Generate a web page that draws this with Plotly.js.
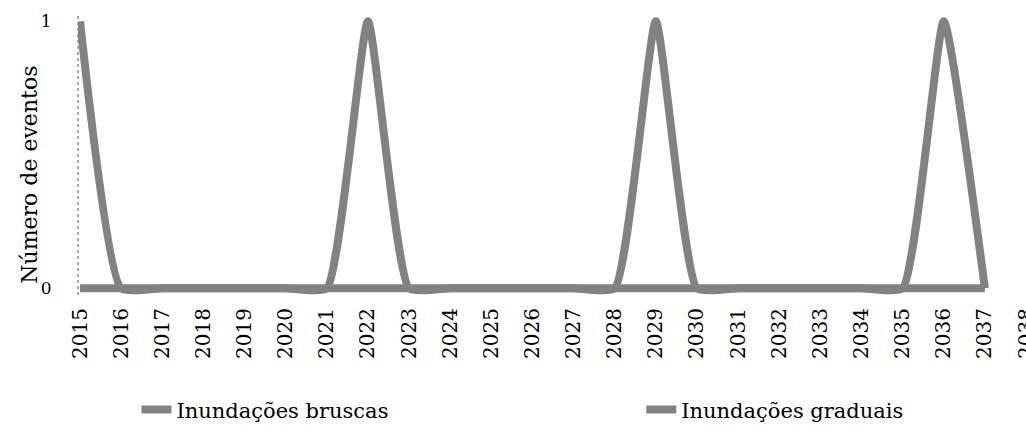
<!DOCTYPE html>
<html>
<head>
<meta charset="utf-8">
<script src="https://cdn.plot.ly/plotly-3.0.1.min.js"></script>
<style>
  html, body { margin: 0; padding: 0; background: white; overflow: hidden; }
  #chart { width: 1026px; height: 443px; }
</style>
</head>
<body>
<div id="chart"></div>
<script>
// Years on the x axis (2038 is only a label, cut at the right edge)
let years = ["2015", "2016", "2017", "2018", "2019", "2020", "2021", "2022", "2023",
  "2024", "2025", "2026", "2027", "2028", "2029", "2030", "2031", "2032", "2033",
  "2034", "2035", "2036", "2037"];
let allYears = years.concat(["2038"]);

// Number of events per year
let bruscas = [1, 0, 0, 0, 0, 0, 0, 1, 0, 0, 0, 0, 0, 0, 1, 0, 0, 0, 0, 0, 0, 1, 0];
let graduais = [0, 0, 0, 0, 0, 0, 0, 0, 0, 0, 0, 0, 0, 0, 0, 0, 0, 0, 0, 0, 0, 0, 0];

let serif = "DejaVu Serif, Liberation Serif, serif";
let grey = "#828282";

let graduaisTrace = {
  x: years,
  y: graduais,
  type: "scatter",
  mode: "lines",
  name: "Inundações graduais",
  legend: "legend2",
  line: { color: grey, width: 8, shape: "spline", smoothing: 0.45 }
};

let bruscasTrace = {
  x: years,
  y: bruscas,
  type: "scatter",
  mode: "lines",
  name: "Inundações bruscas",
  legend: "legend",
  line: { color: grey, width: 8, shape: "spline", smoothing: 0.45 }
};

let data = [bruscasTrace, graduaisTrace];

// two single-item legends placed side by side
function legendAt(x) {
  return {
    xref: "container",
    yref: "container",
    x: x,
    y: 0.075,
    xanchor: "left",
    yanchor: "middle",
    itemwidth: 30,
    font: { family: serif, size: 21, color: "black" }
  };
}

let layout = {
  width: 1026,
  height: 443,
  margin: { l: 78, r: 0, t: 16, b: 148, autoexpand: false },
  paper_bgcolor: "white",
  plot_bgcolor: "white",
  font: { family: serif, color: "black" },
  showlegend: true,
  legend: legendAt(0.133),
  legend2: legendAt(0.625),
  xaxis: {
    type: "category",
    categoryorder: "array",
    categoryarray: allYears,
    tickmode: "array",
    tickvals: allYears,
    ticktext: allYears,
    range: [-0.05, 23],
    tickangle: -90,
    automargin: false,
    tickfont: { family: serif, size: 20, color: "black" },
    showgrid: false,
    zeroline: false,
    showline: false,
    ticks: "outside",
    ticklen: 4,
    tickcolor: "rgba(0,0,0,0)"
  },
  yaxis: {
    range: [-0.025, 1.02],
    tickmode: "array",
    tickvals: [0, 1],
    ticktext: ["0", "1"],
    automargin: false,
    tickfont: { family: serif, size: 17, color: "black" },
    showgrid: false,
    zeroline: false,
    showline: false,
    ticks: "outside",
    ticklen: 22,
    tickcolor: "rgba(0,0,0,0)"
  },
  // y axis title, placed by hand left of the tick labels
  annotations: [
    {
      text: "Número de eventos",
      xref: "paper", yref: "paper",
      x: -0.052, y: 0.43,
      xanchor: "center", yanchor: "middle",
      textangle: -90,
      showarrow: false,
      font: { family: serif, size: 22, color: "black" }
    }
  ],
  shapes: [
    {
      type: "line", xref: "paper", yref: "paper",
      x0: 0, x1: 0, y0: 0, y1: 1,
      line: { color: "#8c8c8c", width: 1.5, dash: "dot" }
    }
  ]
};

Plotly.newPlot("chart", data, layout, { displayModeBar: false, staticPlot: true });
</script>
</body>
</html>
